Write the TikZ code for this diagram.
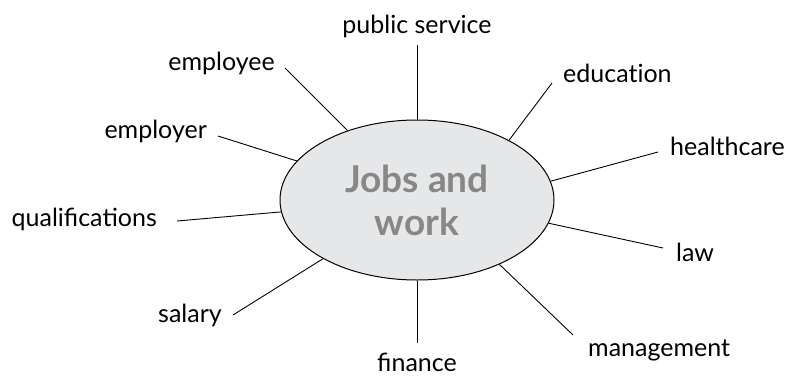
\documentclass[tikz,border=0pt]{standalone}
\usepackage{fontspec}
\setmainfont{Lato}
\usetikzlibrary{shapes.geometric}

\definecolor{hubfill}{HTML}{E6E7E9}
\definecolor{hubtext}{HTML}{878787}

\begin{document}
\begin{tikzpicture}[x=1pt,y=-1pt]

\tikzset{hub/.style = {shape=ellipse,draw,fill=hubfill,line width=1pt,minimum width=274pt,minimum height=160pt,inner sep=0pt}}
\tikzset{topic/.style = {inner sep=0pt,font=\fontsize{25}{30}\selectfont}}
\tikzset{spoke/.style = {line width=0.9pt}}

\useasboundingbox (0,0) rectangle (789,380);

\node[hub,align=center,text=hubtext,font=\fontsize{37}{43}\selectfont\bfseries] (hub) at (417,200) {Jobs and\\work};

\node[topic,anchor=base] (pub) at (417,33) {public service};
\node[topic,anchor=base west] (edu) at (563,82) {educat\kern0pt ion};
\node[topic,anchor=base west] (health) at (670,155) {healthcare};
\node[topic,anchor=base west] (law) at (676,261) {law};
\node[topic,anchor=base west] (mgmt) at (588,356) {management};
\node[topic,anchor=base] (fin) at (417,371) {finance};
\node[topic,anchor=base east] (sal) at (222,322) {salary};
\node[topic,anchor=base east] (qual) at (157,226) {qualifications};
\node[topic,anchor=base east] (emper) at (207,138) {employer};
\node[topic,anchor=base east] (empee) at (275,70) {employee};

% free ends of the spokes
\coordinate (pub-end) at (417,45);
\coordinate (edu-end) at (552,83);
\coordinate (health-end) at (658,152);
\coordinate (law-end) at (663,248);
\coordinate (mgmt-end) at (573,335);
\coordinate (fin-end) at (417,343);
\coordinate (sal-end) at (233,315);
\coordinate (qual-end) at (177,221);
\coordinate (emper-end) at (218,136);
\coordinate (empee-end) at (285,68);

\draw[spoke] (hub.90) -- (pub-end);
\draw[spoke] (hub.33.7) -- (edu-end);
\draw[spoke] (hub.8.7) -- (health-end);
\draw[spoke] (hub.-10.4) -- (law-end);
\draw[spoke] (hub.-38) -- (mgmt-end);
\draw[spoke] (hub.-90) -- (fin-end);
\draw[spoke] (hub.212.3) -- (sal-end);
\draw[spoke] (hub.185.4) -- (qual-end);
\draw[spoke] (hub.162.4) -- (emper-end);
\draw[spoke] (hub.135.4) -- (empee-end);

\end{tikzpicture}
\end{document}
